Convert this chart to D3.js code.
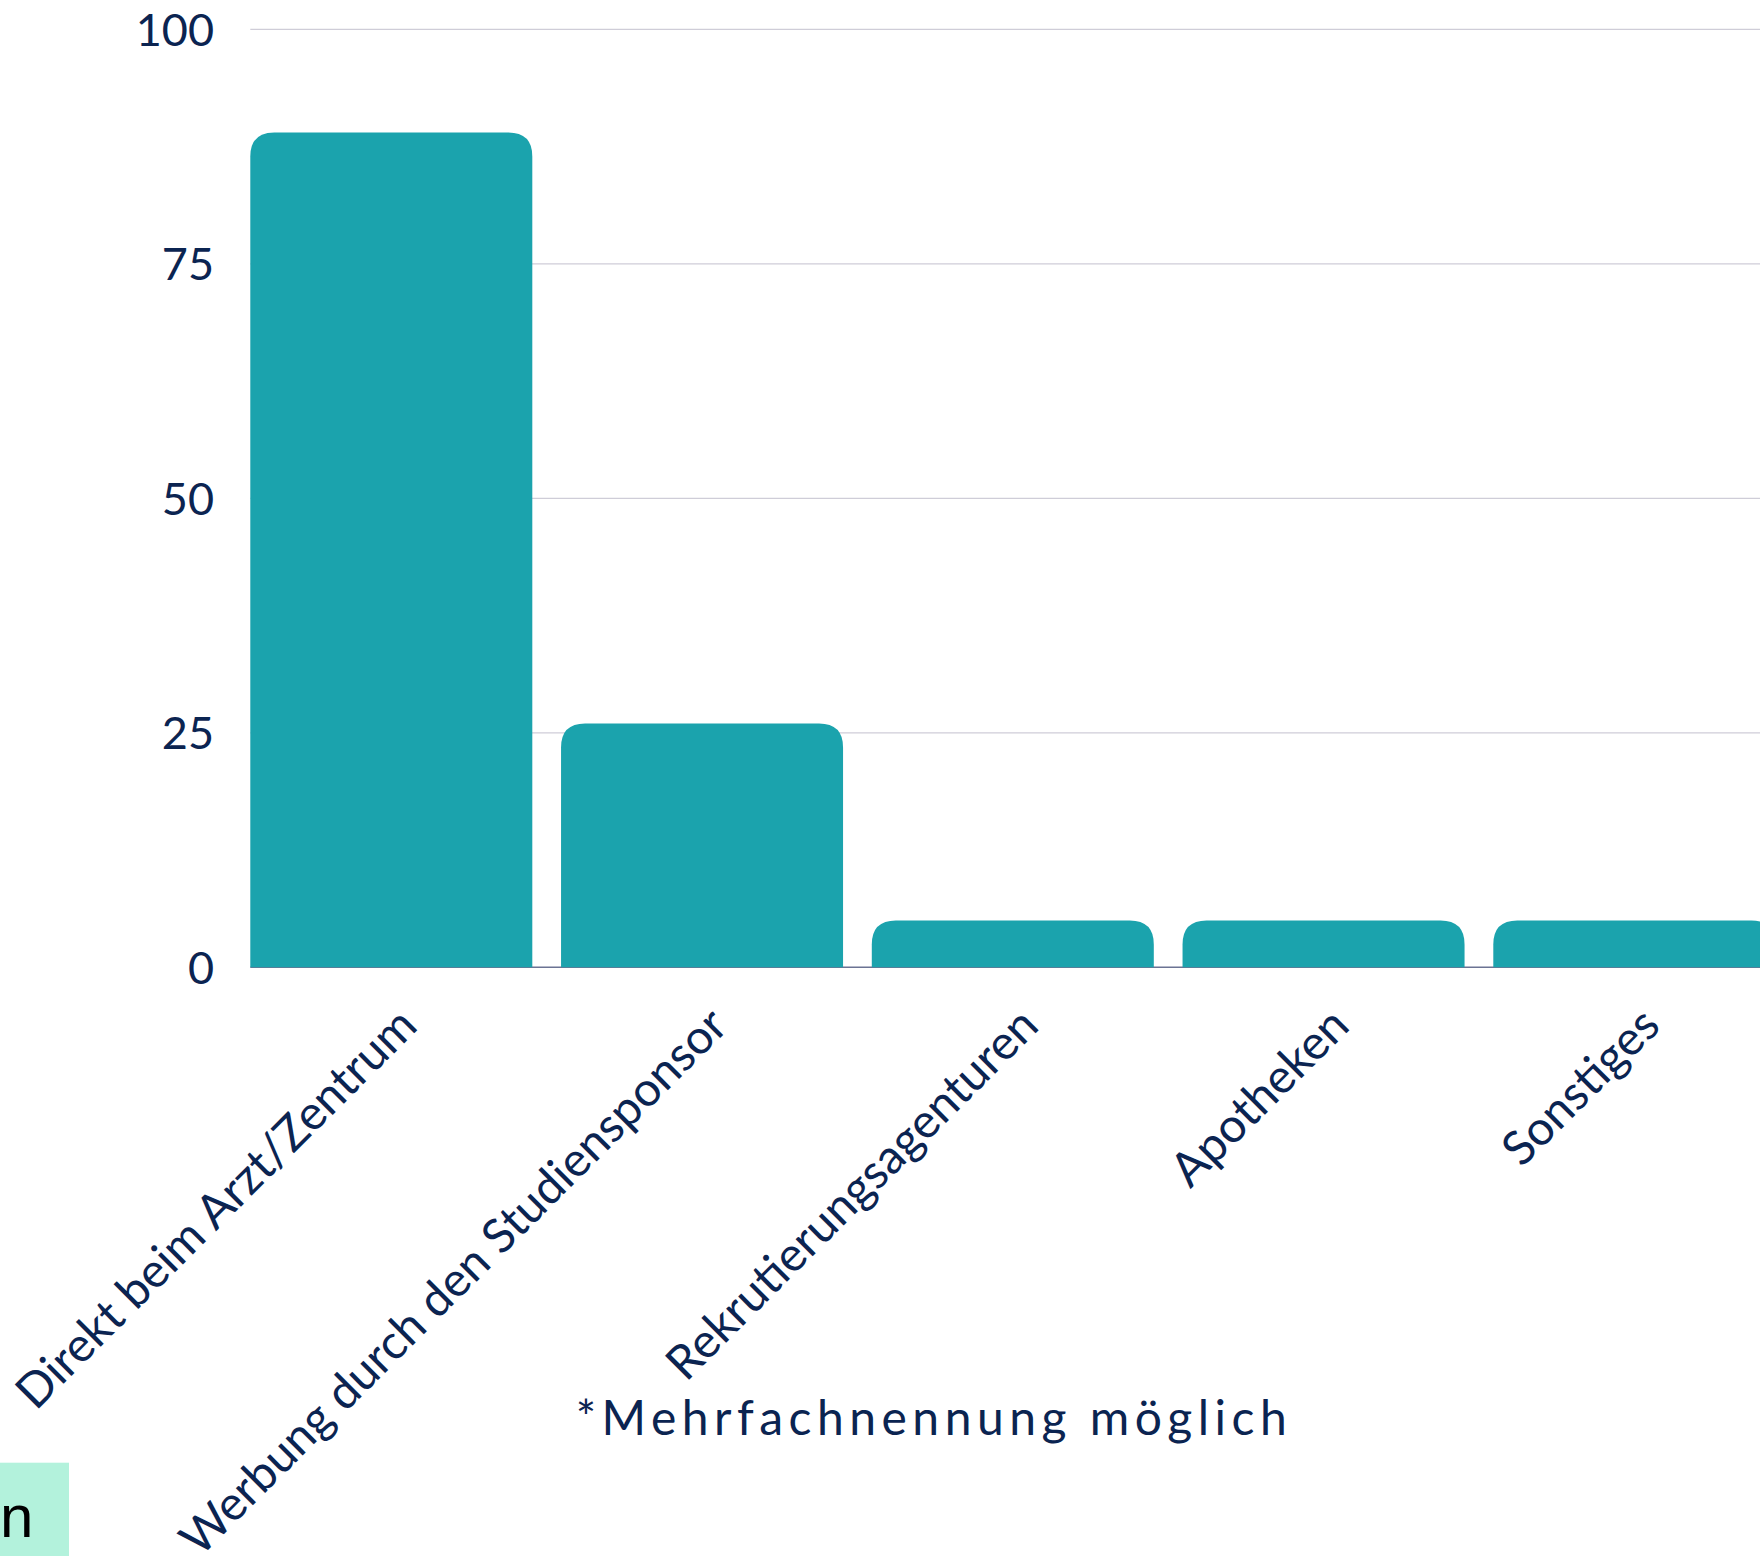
<!DOCTYPE html>
<html>
<head>
<meta charset="utf-8">
<script src="https://cdn.jsdelivr.net/npm/d3@7"></script>
<style>
  html, body { margin: 0; padding: 0; background: #ffffff; overflow: hidden; }
  svg { display: block; }
</style>
</head>
<body>
<svg id="chart" width="1760" height="1556"></svg>
<script>
// ---- data ----
const categories = [
  "Direkt beim Arzt/Zentrum",
  "Werbung durch den Studiensponsor",
  "Rekrutierungsagenturen",
  "Apotheken",
  "Sonstiges"
];
const values = [89, 26, 5, 5, 5];
const yTicks = [0, 25, 50, 75, 100];
const footnote = "*Mehrfachnennung möglich";
const sideLabel = "n";

// ---- styles ----
const barColor = "#1ba3ad";
const textColor = "#0b2451";
const gridColor = "#cfcdd8";
const axisColor = "#6b7393";
const fontFamily = "Lato, 'Open Sans', sans-serif";

const svg = d3.select("#chart");

const x = d3.scaleBand()
  .domain(categories)
  .range([250.3, 1775.3])
  .paddingInner(0.0925)
  .paddingOuter(0);

const y = d3.scaleLinear()
  .domain([0, 100])
  .range([967.3, 29.3]);

// gridlines
svg.append("g")
  .selectAll("line")
  .data(yTicks.filter(d => d !== 0))
  .join("line")
  .attr("x1", 250.3)
  .attr("x2", 1775.3)
  .attr("y1", d => y(d))
  .attr("y2", d => y(d))
  .attr("stroke", gridColor)
  .attr("stroke-width", 1.2);

// y tick labels
svg.append("g")
  .selectAll("text")
  .data(yTicks)
  .join("text")
  .attr("x", 214)
  .attr("y", d => y(d))
  .attr("dy", "0.36em")
  .attr("text-anchor", "end")
  .attr("fill", textColor)
  .style("font-family", fontFamily)
  .style("font-size", "45px")
  .text(d => d);

// baseline axis
svg.append("line")
  .attr("x1", 250.3)
  .attr("x2", 1775.3)
  .attr("y1", y(0))
  .attr("y2", y(0))
  .attr("stroke", axisColor)
  .attr("stroke-width", 1.5);

// bars with rounded top corners
function topRoundedPath(x0, w, yTop, yBase, r) {
  const h = yBase - yTop;
  const rr = Math.min(r, w / 2, h);
  return `M${x0},${yBase}` +
    `L${x0},${yTop + rr}` +
    `Q${x0},${yTop} ${x0 + rr},${yTop}` +
    `L${x0 + w - rr},${yTop}` +
    `Q${x0 + w},${yTop} ${x0 + w},${yTop + rr}` +
    `L${x0 + w},${yBase}Z`;
}

svg.append("g")
  .selectAll("path")
  .data(categories.map((c, i) => ({ c, v: values[i] })))
  .join("path")
  .attr("d", d => topRoundedPath(x(d.c), x.bandwidth(), y(d.v), y(0), 24))
  .attr("fill", barColor);

// x labels (rotated)
svg.append("g")
  .selectAll("text")
  .data(categories)
  .join("text")
  .attr("transform", d => `translate(${x(d) + x.bandwidth() / 2 + 28},${1028}) rotate(-45)`)
  .attr("text-anchor", "end")
  .attr("fill", textColor)
  .style("font-family", fontFamily)
  .style("font-size", "47.5px")
  .text(d => d);

// footnote
svg.append("text")
  .attr("x", 934)
  .attr("y", 1435)
  .attr("text-anchor", "middle")
  .attr("fill", textColor)
  .style("font-family", fontFamily)
  .style("font-size", "48px")
  .style("letter-spacing", "5.5px")
  .text(footnote);

// partial mint box at bottom-left
svg.append("rect")
  .attr("x", 0)
  .attr("y", 1462.7)
  .attr("width", 69)
  .attr("height", 1556 - 1462.7)
  .attr("fill", "#b3f2dc");

svg.append("text")
  .attr("x", 0)
  .attr("y", 1537)
  .attr("text-anchor", "start")
  .attr("fill", "#000000")
  .style("font-family", "'Liberation Sans', Arial, sans-serif")
  .style("font-size", "60px")
  .text(sideLabel);
</script>
</body>
</html>
